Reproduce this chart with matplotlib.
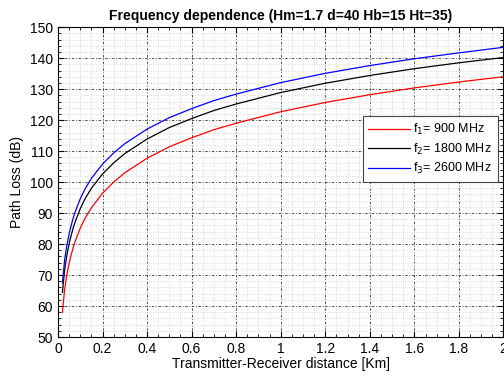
import numpy as np
import matplotlib.pyplot as plt
from matplotlib.ticker import MultipleLocator

plt.rcParams['font.family'] = ['Liberation Sans', 'DejaVu Sans']

# distance [km] and path loss [dB]
dist = [0.02, 0.03, 0.04, 0.05, 0.06, 0.07, 0.08, 0.1, 0.12, 0.15, 0.2, 0.25,
        0.3, 0.4, 0.5, 0.6, 0.7, 0.8, 1.0, 1.2, 1.4, 1.6, 1.8, 2.0]
pl_900 = [58.0, 65.4, 70.1, 73.8, 76.7, 79.3, 81.4, 85.1, 88.1, 91.7, 96.4, 100.0,
          103.0, 107.7, 111.4, 114.3, 116.9, 119.0, 122.7, 125.7, 128.2, 130.4, 132.3, 134.0]
pl_1800 = [64.4, 71.7, 76.4, 80.1, 83.0, 85.6, 87.7, 91.4, 94.4, 98.0, 102.6, 106.2,
           109.2, 113.9, 117.6, 120.5, 123.1, 125.2, 128.9, 131.9, 134.4, 136.6, 138.5, 140.2]
pl_2600 = [67.5, 74.9, 79.6, 83.3, 86.2, 88.8, 90.9, 94.6, 97.6, 101.2, 105.8, 109.4,
           112.4, 117.1, 120.8, 123.7, 126.3, 128.4, 132.1, 135.1, 137.6, 139.8, 141.7, 143.5]

fig = plt.figure(figsize=(5.04, 3.77), dpi=100)
ax = fig.add_axes([0.115, 0.106, 0.884, 0.822])

ax.plot(dist, pl_900, color='red', lw=0.9, label='f$_1$= 900 MHz')
ax.plot(dist, pl_1800, color='black', lw=0.9, label='f$_2$= 1800 MHz')
ax.plot(dist, pl_2600, color='blue', lw=0.9, label='f$_3$= 2600 MHz')

ax.set_xlim(0, 2)
ax.set_ylim(50, 150)
ax.xaxis.set_minor_locator(MultipleLocator(0.05))
ax.yaxis.set_major_locator(MultipleLocator(10))
ax.yaxis.set_minor_locator(MultipleLocator(2))
ax.set_xticks(np.arange(0, 2.01, 0.2))
ax.set_xticklabels(['0', '0.2', '0.4', '0.6', '0.8', '1', '1.2', '1.4', '1.6', '1.8', '2'])
ax.grid(True, which='major', color='#333333', ls=(0, (3, 2, 1, 2)), lw=0.6)
ax.grid(True, which='minor', color='#d0d0d0', ls=':', lw=0.6)
ax.tick_params(which='both', direction='in', labelsize=10, top=True, right=True)
ax.tick_params(which='minor', length=2)
ax.tick_params(which='major', length=4)

ax.set_xlabel('Transmitter-Receiver distance [Km]', fontsize=10, labelpad=1)
ax.set_ylabel('Path Loss (dB)', fontsize=10, labelpad=4)
ax.set_title('Frequency dependence (Hm=1.7 d=40 Hb=15 Ht=35)', fontsize=10,
             fontweight='bold', pad=5)

leg = ax.legend(loc='upper left', bbox_to_anchor=(0.67, 0.732), fontsize=9,
                fancybox=False, framealpha=1, edgecolor='#444444',
                handlelength=3.3, handletextpad=0.3, borderpad=0.45, labelspacing=0.35)
leg.get_frame().set_linewidth(0.8)

fig.savefig('out.png', dpi=100)
